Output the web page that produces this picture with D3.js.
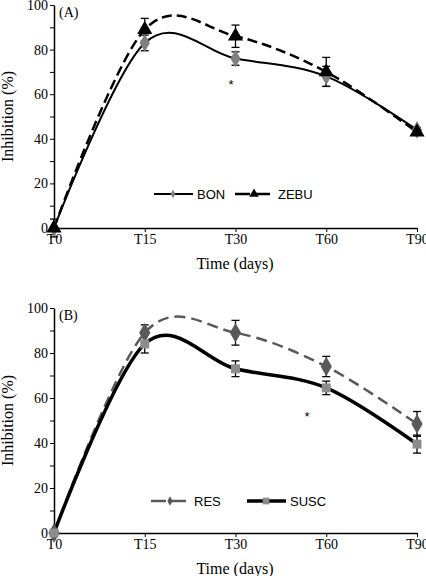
<!DOCTYPE html>
<html><head><meta charset="utf-8">
<script src="https://cdn.jsdelivr.net/npm/d3@7"></script>
<style>html,body{margin:0;padding:0;background:#fff;}svg{display:block;}</style>
</head><body>
<svg id="c" width="426" height="576"></svg>
<script>
const categories = ["T0","T15","T30","T60","T90"];
const yTicks = [0,20,40,60,80,100];
// Panel A
const bonValues  = [0, 83, 76, 68, 44];
const bonErr     = [0, 3.5, 3, 4.5, 1];
const zebuValues = [0, 89, 86, 70, 43];
const zebuErr    = [4, 5, 5, 6.5, 1];
// Panel B
const resValues  = [0, 89, 89, 74, 48.5];
const resErr     = [0, 3.5, 5.5, 4.5, 5.5];
const suscValues = [0, 84, 73, 64.5, 39.5];
const suscErr    = [0, 4, 3.5, 3, 4];

const svg = d3.select("#c");
const serif = "'Liberation Serif','Times New Roman',serif";
const sans = "'Liberation Sans',Arial,sans-serif";

function panel(cfg){
  const g = svg.append("g");
  const x = d3.scalePoint().domain(categories).range([54,417]);
  const y = d3.scaleLinear().domain([0,100]).range([cfg.y0, cfg.y100]);
  // y axis
  const ya = g.append("g").attr("transform","translate(54,0)")
    .call(d3.axisLeft(y).tickValues(yTicks).tickSize(4).tickSizeOuter(0).tickPadding(2))
    .attr("font-family",serif).attr("font-size",14);
  g.append("g").attr("transform","translate(54,0)")
    .call(d3.axisLeft(y).tickValues(d3.range(10,100,20)).tickSize(4).tickFormat("")).select(".domain").remove();
  ya.selectAll("text").attr("fill","#000");
  ya.select(".domain").attr("stroke-width",1.5);
  // x axis
  const xa = g.append("g").attr("transform",`translate(0,${cfg.y0})`)
    .call(d3.axisBottom(x).tickSize(4).tickSizeOuter(0).tickPadding(2))
    .attr("font-family",serif).attr("font-size",14);
  xa.selectAll("text").attr("fill","#000");
  xa.select(".domain").attr("stroke-width",1.5);
  g.selectAll(".tick line").attr("stroke","#000");
  // labels
  g.append("text").attr("x",235).attr("y",cfg.y0+41).attr("text-anchor","middle")
    .attr("font-family",serif).attr("font-size",16).text("Time (days)");
  g.append("text").attr("transform",`translate(13,${(cfg.y0+cfg.y100)/2}) rotate(-90)`)
    .attr("text-anchor","middle").attr("font-family",serif).attr("font-size",16).text("Inhibition (%)");
  g.append("text").attr("x",59).attr("y",cfg.y100+12).attr("font-family",serif).attr("font-size",14).text(cfg.tag);

  const line = d3.line().x((d,i)=>x(categories[i])).y(d=>y(d)).curve(d3.curveCatmullRom.alpha(0));
  cfg.series.forEach(s=>{
    g.append("path").datum(s.values).attr("d",line).attr("fill","none")
      .attr("stroke",s.lineColor).attr("stroke-width",s.width).attr("stroke-dasharray",s.dash||null);
  });
  cfg.series.forEach(s=>{
    s.values.forEach((v,i)=>{
      const e = s.err[i]; if(!e) return;
      const cx = x(categories[i]);
      g.append("line").attr("x1",cx).attr("x2",cx).attr("y1",y(v-e)).attr("y2",y(v+e)).attr("stroke","#000").attr("stroke-width",1.3);
      [v-e,v+e].forEach(w=>g.append("line").attr("x1",cx-4).attr("x2",cx+4).attr("y1",y(w)).attr("y2",y(w)).attr("stroke","#000").attr("stroke-width",1.3));
    });
  });
  cfg.series.forEach(s=>{
    s.values.forEach((v,i)=>{
      g.append("path").attr("d",d3.symbol().type(s.symbol).size(s.size)())
        .attr("transform",`translate(${x(categories[i])},${y(v)})`)
        .attr("fill",s.markerColor);
    });
  });
  g.append("text").attr("x",cfg.star[0]).attr("y",cfg.star[1]).attr("text-anchor","middle")
    .attr("font-family",sans).attr("font-size",13).text("*");
  // legend
  cfg.series.forEach((s,k)=>{
    const lx = cfg.legendX[k], ly = cfg.legendY;
    g.append("line").attr("x1",lx).attr("x2",lx+39).attr("y1",ly).attr("y2",ly)
      .attr("stroke",s.lineColor).attr("stroke-width",s.width).attr("stroke-dasharray",s.dash?"15,5":null);
    g.append("path").attr("d",d3.symbol().type(s.symbol).size(s.legendSize)())
      .attr("transform",`translate(${lx+19},${ly})`).attr("fill",s.markerColor);
    g.append("text").attr("x",lx+43).attr("y",ly+5).attr("font-family",sans).attr("font-size",13).text(s.name);
  });
}

panel({y0:228, y100:5, tag:"(A)", star:[231,89], legendY:194, legendX:[154,235],
  series:[
    {name:"BON", values:bonValues, err:bonErr, lineColor:"#000", width:2, markerColor:"#7f7f7f", symbol:d3.symbolDiamond, size:90, legendSize:20},
    {name:"ZEBU", values:zebuValues, err:zebuErr, lineColor:"#000", width:2.5, dash:"10,5", markerColor:"#000", symbol:d3.symbolTriangle, size:100, legendSize:40}
  ]});
panel({y0:533, y100:308, tag:"(B)", star:[307,421], legendY:501, legendX:[151,247],
  series:[
    {name:"RES", values:resValues, err:resErr, lineColor:"#595959", width:2.5, dash:"11,6", markerColor:"#595959", symbol:d3.symbolDiamond, size:110, legendSize:25},
    {name:"SUSC", values:suscValues, err:suscErr, lineColor:"#000", width:3.5, markerColor:"#8c8c8c", symbol:d3.symbolSquare, size:80, legendSize:45}
  ]});
</script>
</body></html>
